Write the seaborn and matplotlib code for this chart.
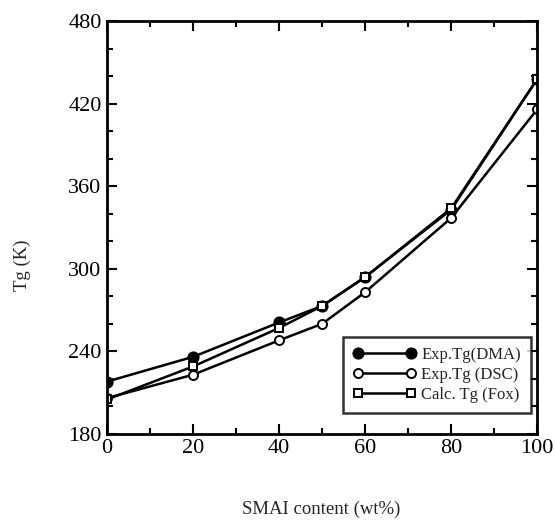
import matplotlib
matplotlib.use("Agg")
import matplotlib.pyplot as plt
import seaborn as sns
import pandas as pd
from matplotlib.ticker import MultipleLocator

# SMAI content (wt%) and glass transition temperatures (K)
smai = [0, 20, 40, 50, 60, 80, 100]
tg_dma = [218, 236, 261, 273, 294, 343, 438]
tg_dsc = [206, 223, 248, 260, 283, 337, 416]
tg_fox = [205, 229, 257, 273, 294, 344, 438]

series_labels = ["Exp.Tg(DMA)", "Exp.Tg (DSC)", "Calc. Tg (Fox)"]

sns.set_theme(style="ticks")
plt.rcParams["font.family"] = ["Liberation Serif", "DejaVu Serif"]

fig = plt.figure(figsize=(5.55, 5.31), dpi=100)
ax = fig.add_axes([0.193, 0.183, 0.775, 0.777])

df = pd.DataFrame({"x": smai, "dma": tg_dma, "dsc": tg_dsc, "fox": tg_fox})

sns.lineplot(data=df, x="x", y="dma", ax=ax, color="black", lw=1.8,
             marker="o", markersize=8, markerfacecolor="black",
             markeredgecolor="black", label=series_labels[0])
sns.lineplot(data=df, x="x", y="dsc", ax=ax, color="black", lw=1.8,
             marker="o", markersize=6.5, markerfacecolor="white",
             markeredgecolor="black", markeredgewidth=1.4,
             label=series_labels[1])
sns.lineplot(data=df, x="x", y="fox", ax=ax, color="black", lw=1.8,
             marker="s", markersize=6, markerfacecolor="white",
             markeredgecolor="black", markeredgewidth=1.4,
             label=series_labels[2])

ax.set_xlim(0, 100)
ax.set_ylim(180, 480)
ax.xaxis.set_major_locator(MultipleLocator(20))
ax.xaxis.set_minor_locator(MultipleLocator(10))
ax.yaxis.set_major_locator(MultipleLocator(60))
ax.yaxis.set_minor_locator(MultipleLocator(20))
ax.tick_params(which="both", direction="in", top=True, right=True,
               width=1.5, labelsize=16, colors="black")
ax.tick_params(which="major", length=7, pad=4)
ax.tick_params(which="minor", length=4)
for s in ax.spines.values():
    s.set_linewidth(2)
    s.set_color("black")

ax.set_xlabel("")
ax.set_ylabel("")
fig.text(0.578, 0.025, "SMAI content (wt%)", ha="center", va="bottom",
         fontsize=13.5)
fig.text(0.04, 0.5, "Tg (K)", ha="center", va="center", rotation=90,
         fontsize=13.5)

leg = ax.legend(loc="lower right", bbox_to_anchor=(0.985, 0.05),
                numpoints=2, handlelength=3.8, fontsize=12,
                frameon=True, fancybox=False, borderpad=0.6,
                labelspacing=0.25, handletextpad=0.3, borderaxespad=0)
leg.get_frame().set_edgecolor("black")
leg.get_frame().set_linewidth(1.8)

fig.savefig("out.png", dpi=100, facecolor="white")
